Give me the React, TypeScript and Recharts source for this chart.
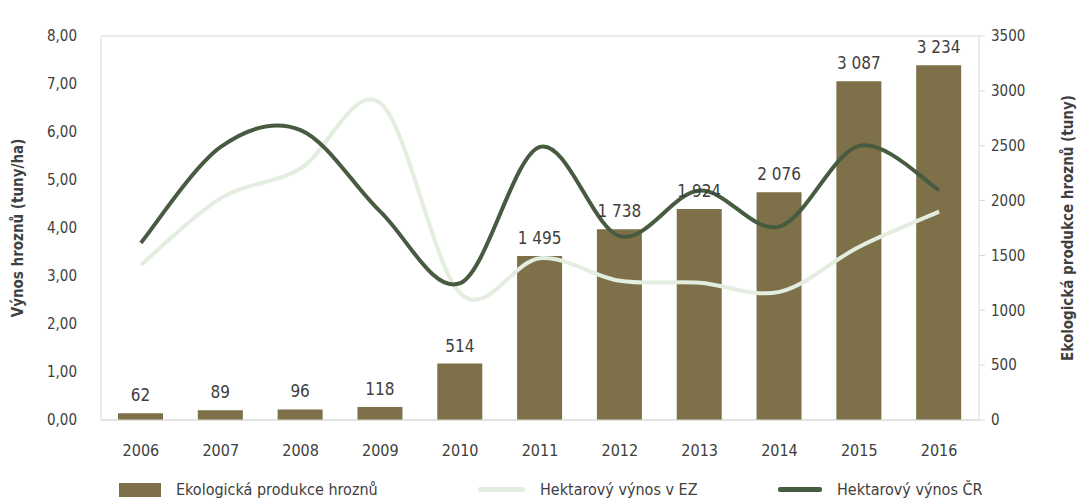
import {
  Bar,
  CartesianGrid,
  ComposedChart,
  LabelList,
  Legend,
  Line,
  XAxis,
  YAxis,
} from 'recharts';

const years = ['2006', '2007', '2008', '2009', '2010', '2011', '2012', '2013', '2014', '2015', '2016'];
const production = [62, 89, 96, 118, 514, 1495, 1738, 1924, 2076, 3087, 3234];
const yieldEz = [3.23, 4.62, 5.24, 6.6, 2.64, 3.37, 2.9, 2.86, 2.67, 3.61, 4.34];
const yieldCr = [3.69, 5.69, 6.04, 4.34, 2.85, 5.69, 3.83, 4.78, 4.03, 5.71, 4.79];

const leftTicks = [0, 1, 2, 3, 4, 5, 6, 7, 8];
const rightTicks = [0, 500, 1000, 1500, 2000, 2500, 3000, 3500];

const data = years.map((year, i) => ({
  year,
  production: production[i],
  ez: yieldEz[i],
  cr: yieldCr[i],
}));

const FONT = '"DejaVu Sans Condensed", "DejaVu Sans", sans-serif';
const TEXT = '#404040';
const BAR = '#7e7149';
const LIGHT = '#e3ede0';
const DARK = '#475b41';
const GRID = '#d9d9d9';

const TICK = { fontSize: 15, fill: TEXT, fontFamily: FONT } as const;

const fmtThousands = (v: number) => String(v).replace(/\B(?=(\d{3})+(?!\d))/g, ' ');

// Excel-like smoothed line (Catmull-Rom through every point)
function smoothCurve(context: any) {
  let pts: [number, number][] = [];
  return {
    areaStart() {},
    areaEnd() {},
    lineStart() {
      pts = [];
    },
    point(x: number, y: number) {
      pts.push([+x, +y]);
    },
    lineEnd() {
      if (!pts.length) return;
      context.moveTo(pts[0][0], pts[0][1]);
      for (let i = 0; i < pts.length - 1; i++) {
        const p0 = pts[Math.max(i - 1, 0)];
        const p1 = pts[i];
        const p2 = pts[i + 1];
        const p3 = pts[Math.min(i + 2, pts.length - 1)];
        context.bezierCurveTo(
          p1[0] + (p2[0] - p0[0]) / 6,
          p1[1] + (p2[1] - p0[1]) / 6,
          p2[0] - (p3[0] - p1[0]) / 6,
          p2[1] - (p3[1] - p1[1]) / 6,
          p2[0],
          p2[1],
        );
      }
    },
  };
}

function LegendContent() {
  const item = { display: 'flex', alignItems: 'center', position: 'absolute' as const, top: 0 };
  const label = { fontSize: 16, color: TEXT, fontFamily: FONT, marginLeft: 15 };
  return (
    <div style={{ position: 'relative', height: 20 }}>
      <div style={{ ...item, left: 119 }}>
        <span style={{ width: 42, height: 14, background: BAR, display: 'inline-block' }} />
        <span style={label}>Ekologická produkce hroznů</span>
      </div>
      <div style={{ ...item, left: 478 }}>
        <span style={{ width: 47, height: 5, background: LIGHT, display: 'inline-block', borderRadius: 2 }} />
        <span style={label}>Hektarový výnos v EZ</span>
      </div>
      <div style={{ ...item, left: 778 }}>
        <span style={{ width: 44, height: 5, background: DARK, display: 'inline-block', borderRadius: 2 }} />
        <span style={label}>Hektarový výnos ČR</span>
      </div>
    </div>
  );
}

export default function App() {
  return (
    <div style={{ position: 'absolute', left: 0, top: 0, background: '#fff' }}>
      <ComposedChart
        width={1078}
        height={502}
        data={data}
        margin={{ top: 36, right: 0, bottom: 0, left: 0 }}
      >
        <CartesianGrid vertical={false} stroke={GRID} strokeWidth={1} />
        <XAxis
          dataKey="year"
          tick={{ ...TICK, fontSize: 16 }}
          tickLine={false}
          axisLine={{ stroke: GRID }}
          height={62}
          tickMargin={19}
        />
        <YAxis
          yAxisId="left"
          domain={[0, 8]}
          ticks={leftTicks}
          tickFormatter={(v: number) => v.toFixed(2).replace('.', ',')}
          tick={TICK}
          tickLine={false}
          axisLine={{ stroke: GRID }}
          width={101}
          tickMargin={18}
          label={{
            value: 'Výnos hroznů  (tuny/ha)',
            angle: -90,
            position: 'insideLeft',
            offset: 18,
            style: { fontSize: 15, fontWeight: 'bold', fill: TEXT, fontFamily: FONT, textAnchor: 'middle' },
          }}
        />
        <YAxis
          yAxisId="right"
          orientation="right"
          domain={[0, 3500]}
          ticks={rightTicks}
          tick={TICK}
          tickLine={{ stroke: GRID }}
          tickSize={6}
          axisLine={{ stroke: GRID }}
          width={99}
          tickMargin={6}
          label={{
            value: 'Ekologická produkce hroznů (tuny)',
            angle: -90,
            position: 'insideRight',
            offset: 10,
            style: { fontSize: 15, fontWeight: 'bold', fill: TEXT, fontFamily: FONT, textAnchor: 'middle' },
          }}
        />
        <Bar
          yAxisId="right"
          dataKey="production"
          name="Ekologická produkce hroznů"
          fill={BAR}
          barSize={45}
          isAnimationActive={false}
        >
          <LabelList
            dataKey="production"
            position="top"
            offset={12}
            formatter={(v: number) => fmtThousands(v)}
            style={{ fontSize: 17, fill: TEXT, fontFamily: FONT }}
          />
        </Bar>
        <Line
          yAxisId="left"
          type={smoothCurve as any}
          dataKey="ez"
          name="Hektarový výnos v EZ"
          stroke={LIGHT}
          strokeWidth={4}
          dot={false}
          activeDot={false}
          isAnimationActive={false}
        />
        <Line
          yAxisId="left"
          type={smoothCurve as any}
          dataKey="cr"
          name="Hektarový výnos ČR"
          stroke={DARK}
          strokeWidth={4}
          dot={false}
          activeDot={false}
          isAnimationActive={false}
        />
        <Legend
          verticalAlign="bottom"
          content={<LegendContent />}
          wrapperStyle={{ left: 0, width: 1078, bottom: 2 }}
        />
      </ComposedChart>
    </div>
  );
}
